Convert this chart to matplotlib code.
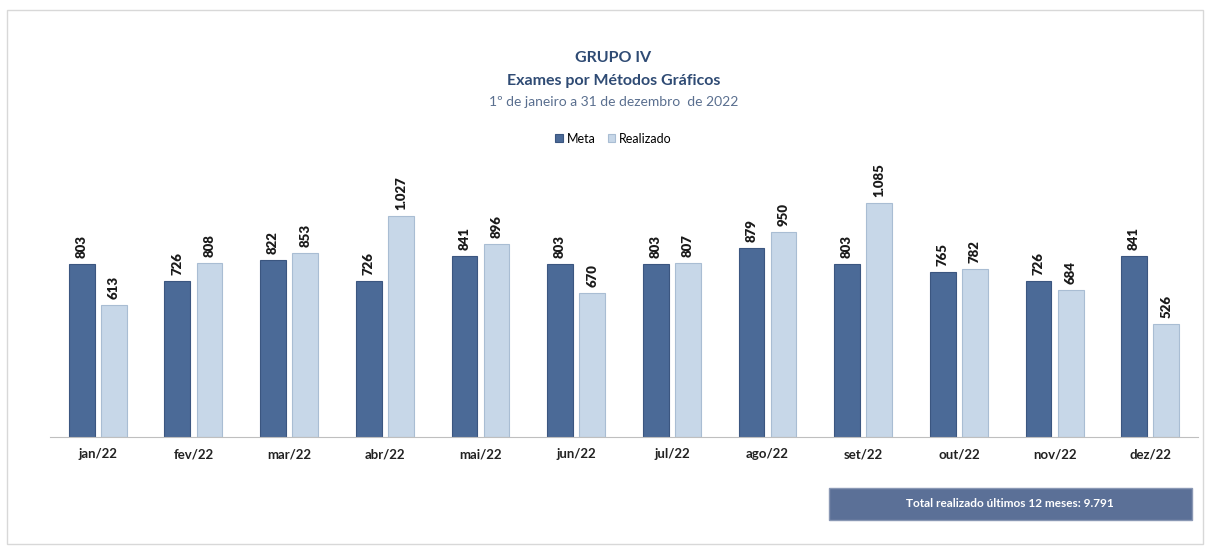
import matplotlib
matplotlib.use('Agg')
import matplotlib.pyplot as plt
import numpy as np
from matplotlib.patches import Rectangle, FancyBboxPatch

plt.rcParams['font.family'] = ['Lato', 'DejaVu Sans']

months = ['jan/22', 'fev/22', 'mar/22', 'abr/22', 'mai/22', 'jun/22',
          'jul/22', 'ago/22', 'set/22', 'out/22', 'nov/22', 'dez/22']
meta = [803, 726, 822, 726, 841, 803, 803, 879, 803, 765, 726, 841]
realizado = [613, 808, 853, 1027, 896, 670, 807, 950, 1085, 782, 684, 526]
total_text = 'Total realizado últimos 12 meses: 9.791'

dark = '#4b6a97'
light = '#c7d7e8'
title_col = '#2f4b74'


def fmt(v):
    # brazilian thousands separator
    return f'{v:,}'.replace(',', '.')


fig = plt.figure(figsize=(12.1, 5.55), dpi=100)
fig.patches.append(Rectangle((0.006, 0.02), 0.988, 0.962, transform=fig.transFigure,
                             fill=False, edgecolor='#d8d8d8', linewidth=1))

ax = fig.add_axes([0.0413, 0.2126, 0.9488, 0.5045])
x = np.arange(len(months))
w = 0.27
off = 0.168
b1 = ax.bar(x - off, meta, w, color=dark, edgecolor='#3b5680', linewidth=0.8, label='Meta')
b2 = ax.bar(x + off, realizado, w, color=light, edgecolor='#a9bdd3', linewidth=0.8, label='Realizado')

for bars, vals in ((b1, meta), (b2, realizado)):
    for r, v in zip(bars, vals):
        ax.text(r.get_x() + r.get_width() / 2, v + 28, fmt(v), rotation=90,
                ha='center', va='bottom', fontsize=9.5, fontweight='heavy', color='#1a1a1a')

ax.set_xlim(-0.5, len(months) - 0.5)
ax.set_ylim(0, 1300)
ax.set_xticks(x)
ax.set_xticklabels(months, fontsize=9.5, fontweight='bold', color='#222222')
ax.tick_params(axis='x', length=0, pad=8)
ax.set_yticks([])
for s in ['top', 'right', 'left']:
    ax.spines[s].set_visible(False)
ax.spines['bottom'].set_color('#bfbfbf')

fig.text(0.507, 0.895, 'GRUPO IV', ha='center', va='center', fontsize=11.5,
         fontweight='bold', color=title_col)
fig.text(0.507, 0.854, 'Exames por Métodos Gráficos', ha='center', va='center',
         fontsize=11.5, fontweight='bold', color=title_col)
fig.text(0.507, 0.816, '1º de janeiro a 31 de dezembro  de 2022', ha='center', va='center',
         fontsize=10, color='#5a6f8f')

fig.legend(handles=[b1, b2], labels=['Meta', 'Realizado'], loc='center',
           bbox_to_anchor=(0.507, 0.75), ncol=2, frameon=False, fontsize=9,
           handlelength=0.6, handleheight=0.6, columnspacing=1.0, handletextpad=0.3)

box = FancyBboxPatch((0.685, 0.063), 0.3, 0.058, boxstyle='square,pad=0',
                     transform=fig.transFigure, facecolor='#5b7097', edgecolor='#8a98b4',
                     linewidth=1)
fig.patches.append(box)
fig.text(0.835, 0.092, total_text, ha='center', va='center', fontsize=8.5,
         fontweight='bold', color='white')

fig.savefig('out.png', dpi=100)
